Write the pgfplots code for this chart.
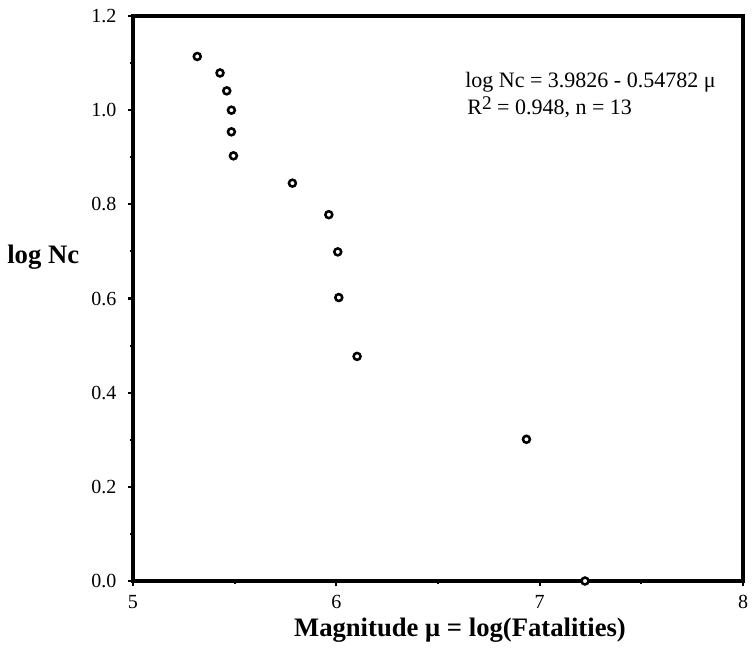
\documentclass[border=0pt]{standalone}
\usepackage{fontspec}
\setmainfont{Liberation Serif}
\usepackage{pgfplots}
\pgfplotsset{compat=1.18}

\begin{document}
\begin{tikzpicture}
\begin{axis}[name=ax,scale only axis,width=457.5pt,height=423.75pt,
 xmin=5,xmax=8,ymin=0,ymax=1.2,xtick={5,6,7,8},ytick={0,0.2,0.4,0.6,0.8,1.0,1.2},
 minor x tick num=1,minor y tick num=1,
 tick align=outside,tick pos=left,
 major tick length=4pt,minor tick length=2.5pt,
 every tick/.style={black,line width=1.6pt},
 every outer x axis line/.append style={draw=none},
 every outer y axis line/.append style={draw=none},
 axis background/.style={draw=black,line width=2.4pt},
 yticklabel style={/pgf/number format/fixed,/pgf/number format/fixed zerofill,
  /pgf/number format/precision=1,xshift=-5pt},
 /pgf/number format/assume math mode=true,
 tick label style={font=\fontsize{15}{17}\selectfont},
 xticklabel style={yshift=-3pt},
 clip=false]
\addplot[only marks,mark=*,mark size=2.6pt,
 mark options={draw=black,fill=white,line width=1.9pt}] coordinates {
 (5.316,1.114) (5.428,1.079) (5.461,1.041) (5.484,1.000) (5.484,0.954)
 (5.494,0.903) (5.784,0.845) (5.963,0.778) (6.007,0.699) (6.012,0.602)
 (6.102,0.477) (6.935,0.301) (7.223,0.000)};
\node[anchor=base west,inner sep=0pt,font=\fontsize{16.5}{18}\selectfont] at (axis cs:6.633,1.049)
 {log Nc = 3.9826 - 0.54782 μ};
\node[anchor=base west,inner sep=0pt,font=\fontsize{16.5}{18}\selectfont] at (axis cs:6.643,0.990)
 {R\raisebox{0.55ex}{\fontsize{14.5}{16}\selectfont 2} = 0.948, n = 13};
\node[anchor=base west,inner sep=0pt,font=\fontsize{20}{22}\selectfont\bfseries,xshift=-94.5pt]
 at (axis cs:5,0.675) {log Nc};
\node[anchor=base,inner sep=0pt,font=\fontsize{20}{22}\selectfont\bfseries] at (axis cs:6.608,-0.1175)
 {Magnitude μ = log(Fatalities)};
\end{axis}
\pgfresetboundingbox
\path ([shift={(-99.75pt,-51pt)}]ax.south west) rectangle ([shift={(6.75pt,12pt)}]ax.north east);
\end{tikzpicture}
\end{document}
